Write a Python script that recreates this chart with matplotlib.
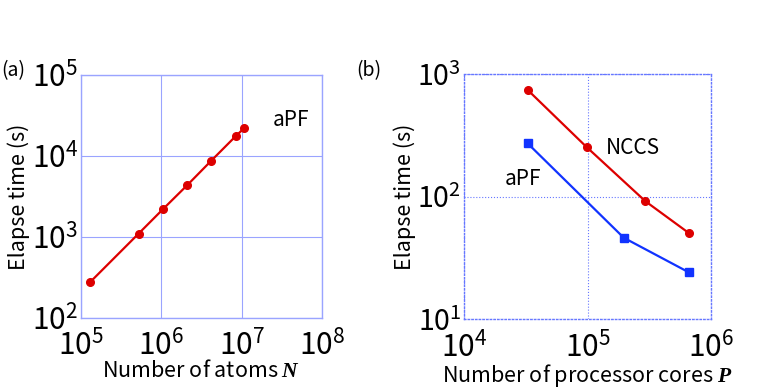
import matplotlib
matplotlib.use("Agg")
import matplotlib.pyplot as plt

plt.rcParams['font.family'] = ['Noto Sans CJK JP', 'DejaVu Sans']
plt.rcParams['mathtext.fontset'] = 'custom'
plt.rcParams['mathtext.bfit'] = 'Liberation Serif:italic:bold'

# (a) elapse time vs number of atoms
atoms = [1.31e5, 5.24e5, 1.05e6, 2.1e6, 4.19e6, 8.39e6, 1.07e7]
time_atoms = [277, 1100, 2200, 4350, 8750, 17500, 22000]

# (b) elapse time vs processor cores
cores_nccs = [32768, 98304, 294912, 663552]
time_nccs = [745, 255, 92, 50.6]
cores_apf = [32768, 196608, 663552]
time_apf = [273, 46.4, 24.2]

xticks_a = [1e5, 1e6, 1e7, 1e8]
xlabels_a = [r'$\mathregular{10^{5}}$', r'$\mathregular{10^{6}}$', r'$\mathregular{10^{7}}$', r'$\mathregular{10^{8}}$']
yticks_a = [1e2, 1e3, 1e4, 1e5]
ylabels_a = [r'$\mathregular{10^{2}}$', r'$\mathregular{10^{3}}$', r'$\mathregular{10^{4}}$', r'$\mathregular{10^{5}}$']
xticks_b = [1e4, 1e5, 1e6]
xlabels_b = [r'$\mathregular{10^{4}}$', r'$\mathregular{10^{5}}$', r'$\mathregular{10^{6}}$']
yticks_b = [1e1, 1e2, 1e3]
ylabels_b = [r'$\mathregular{10^{1}}$', r'$\mathregular{10^{2}}$', r'$\mathregular{10^{3}}$']

red = "#dd0000"
blue = "#1133ff"
frame = "#9aa4ff"

fig = plt.figure(figsize=(7.62, 3.91), dpi=100)
ax1 = fig.add_axes([0.106, 0.187, 0.317, 0.6215])
ax2 = fig.add_axes([0.609, 0.183, 0.324, 0.627])

# panel (a)
ax1.plot(atoms, time_atoms, color=red, lw=1.6, marker='o', ms=5.5)
ax1.set_xscale('log')
ax1.set_yscale('log')
ax1.set_xlim(1e5, 1e8)
ax1.set_ylim(1e2, 1e5)
ax1.set_xticks(xticks_a, xlabels_a)
ax1.set_yticks(yticks_a, ylabels_a)
ax1.grid(True, color=frame, lw=0.8)
ax1.text(2.45e7, 2.8e4, "aPF", fontsize=15, va='center')
ax1.set_xlabel(r"Number of atoms $\mathbfit{N}$", fontsize=15.5, labelpad=-2)
ax1.set_ylabel("Elapse time (s)", fontsize=15.5, labelpad=1)

# panel (b)
ax2.plot(cores_nccs, time_nccs, color=red, lw=1.6, marker='o', ms=5.5)
ax2.plot(cores_apf, time_apf, color=blue, lw=1.6, marker='s', ms=5.5)
ax2.set_xscale('log')
ax2.set_yscale('log')
ax2.set_xlim(1e4, 1e6)
ax2.set_ylim(1e1, 1e3)
ax2.set_xticks(xticks_b, xlabels_b)
ax2.set_yticks(yticks_b, ylabels_b)
ax2.grid(True, color="#6677ff", lw=0.8, ls=':')
ax2.text(1.4e5, 250, "NCCS", fontsize=15, va='center')
ax2.text(2.15e4, 141, "aPF", fontsize=15, va='center')
ax2.set_xlabel(r"Number of processor cores $\mathbfit{P}$", fontsize=15.5, labelpad=-2)
ax2.set_ylabel("Elapse time (s)", fontsize=15.5, labelpad=1)

for ax in (ax1, ax2):
    ax.minorticks_off()
    ax.tick_params(axis='both', length=0, labelsize=21.5)
    ax.tick_params(axis='x', pad=9)
    ax.tick_params(axis='y', pad=2)
    for s in ax.spines.values():
        s.set_color(frame)
        s.set_linewidth(1)
    ax.set_axisbelow(True)
ax2.tick_params(axis='y', labelsize=20.5)
for s in ax2.spines.values():
    s.set_linestyle(':')
    s.set_color("#6677ff")

fig.text(0.002, 0.805, "(a)", fontsize=14)
fig.text(0.468, 0.805, "(b)", fontsize=14)

fig.savefig("out.png", dpi=100)
